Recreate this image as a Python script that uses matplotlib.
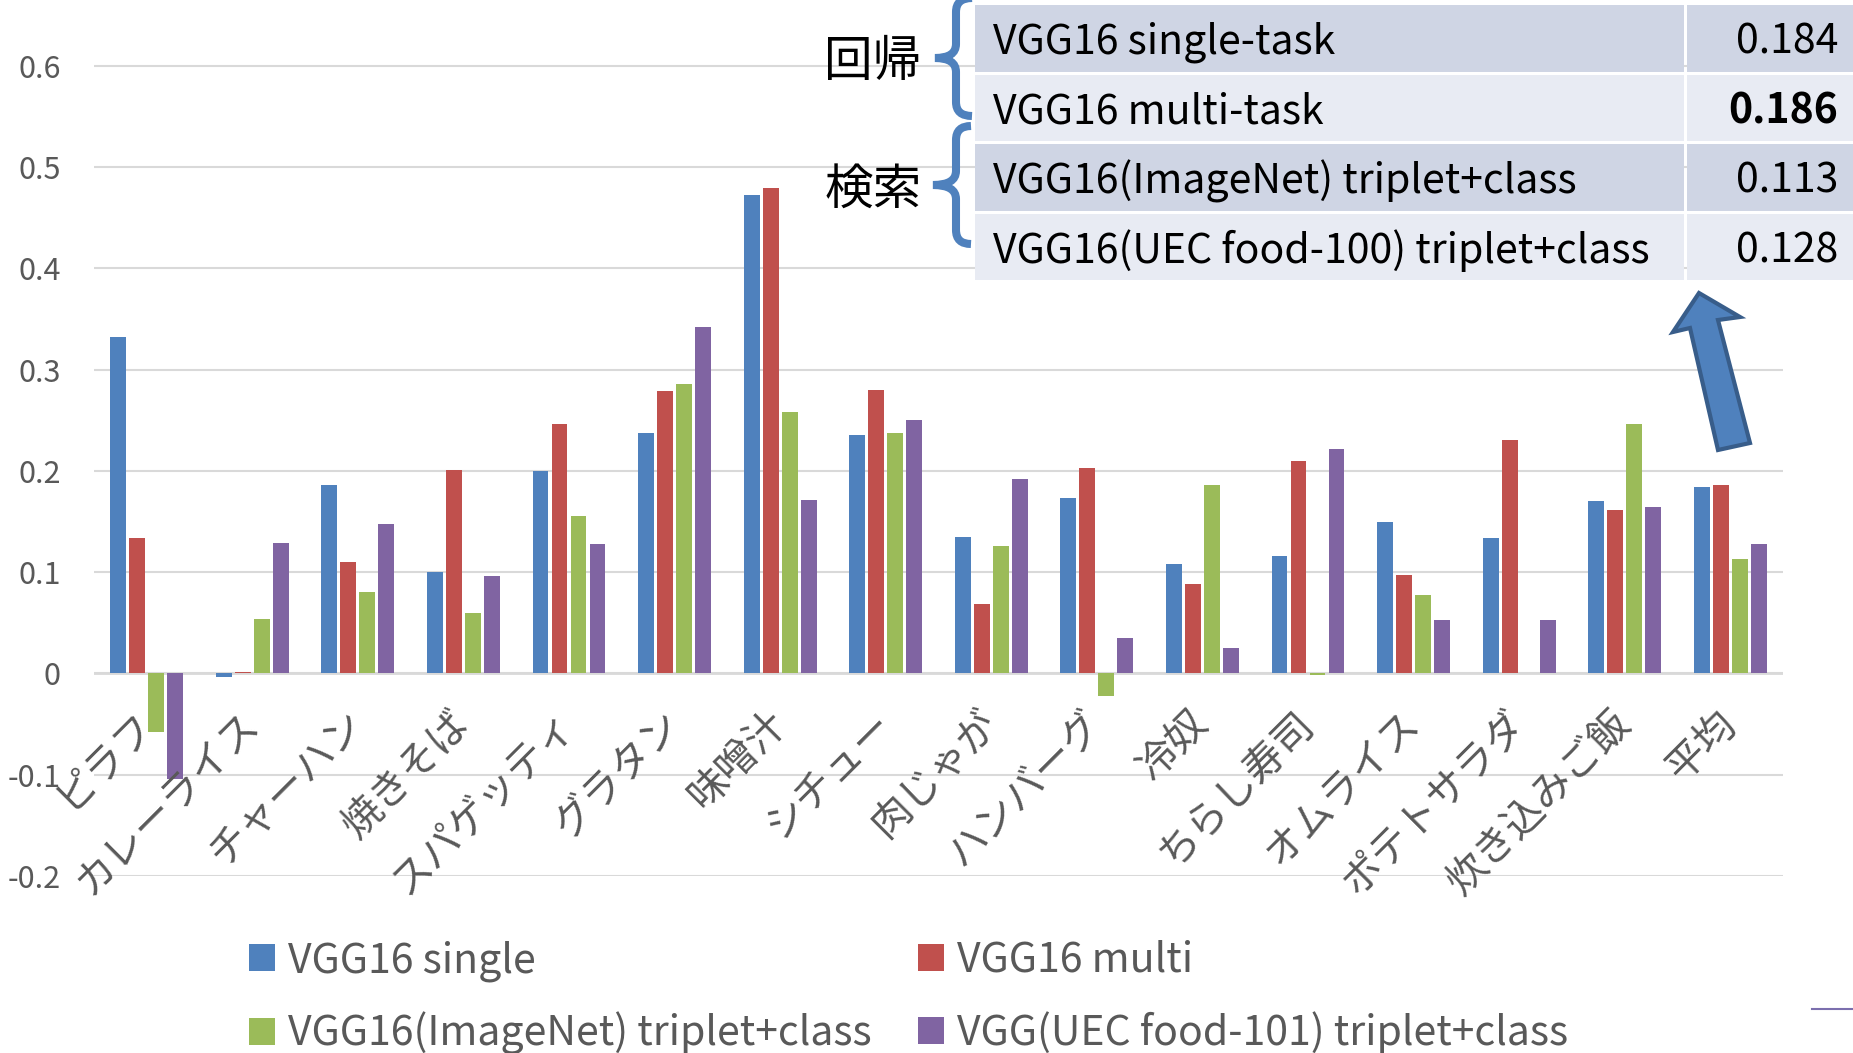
import numpy as np
import matplotlib
matplotlib.use("Agg")
import matplotlib.pyplot as plt
import matplotlib.transforms as mtransforms
from matplotlib.patches import Rectangle, Polygon, PathPatch
from matplotlib.path import Path
from matplotlib.lines import Line2D

plt.rcParams['font.family'] = ['Noto Sans CJK JP', 'DejaVu Sans']

W, H = 1853, 1053

# chart data
categories = ['ピラフ', 'カレーライス', 'チャーハン', '焼きそば', 'スパゲッティ', 'グラタン',
              '味噌汁', 'シチュー', '肉じゃが', 'ハンバーグ', '冷奴', 'ちらし寿司',
              'オムライス', 'ポテトサラダ', '炊き込みご飯', '平均']
vgg16_single = [0.332, -0.004, 0.186, 0.100, 0.200, 0.237, 0.472, 0.235,
                0.135, 0.173, 0.108, 0.116, 0.149, 0.134, 0.170, 0.184]
vgg16_multi = [0.134, 0.001, 0.110, 0.201, 0.246, 0.279, 0.479, 0.280,
               0.068, 0.203, 0.088, 0.210, 0.097, 0.230, 0.161, 0.186]
vgg16_imagenet = [-0.058, 0.054, 0.080, 0.060, 0.155, 0.286, 0.258, 0.237,
                  0.126, -0.022, 0.186, -0.002, 0.077, 0.0, 0.246, 0.113]
vgg_uec = [-0.104, 0.129, 0.147, 0.096, 0.128, 0.342, 0.171, 0.250,
           0.192, 0.035, 0.025, 0.222, 0.053, 0.053, 0.164, 0.128]
series_names = ['VGG16 single', 'VGG16 multi',
                'VGG16(ImageNet) triplet+class', 'VGG(UEC food-101) triplet+class']
colors = ['#4F81BD', '#C0504D', '#9BBB59', '#8064A2']

y_ticks = [-0.2, -0.1, 0, 0.1, 0.2, 0.3, 0.4, 0.5, 0.6]
y_tick_labels = ['-0.2', '-0.1', '0', '0.1', '0.2', '0.3', '0.4', '0.5', '0.6']

# summary table in the top right corner
table_models = ['VGG16 single-task', 'VGG16 multi-task',
                'VGG16(ImageNet) triplet+class', 'VGG16(UEC food-100) triplet+class']
table_scores = ['0.184', '0.186', '0.113', '0.128']
table_bold = [False, True, False, False]
table_groups = ['回帰', '検索']


def px(x, y):
    """pixel position (y down) -> figure fraction"""
    return x / W, 1 - y / H


def brace(ax, x_end, x_mid, x_tip, y_top, y_tip, y_bot, r=14, **kw):
    verts = [(x_end, y_top),
             (x_mid, y_top), (x_mid, y_top + r),
             (x_mid, y_tip - r),
             (x_mid, y_tip), (x_tip, y_tip),
             (x_mid, y_tip), (x_mid, y_tip + r),
             (x_mid, y_bot - r),
             (x_mid, y_bot), (x_end, y_bot)]
    codes = [Path.MOVETO,
             Path.CURVE3, Path.CURVE3,
             Path.LINETO,
             Path.CURVE3, Path.CURVE3,
             Path.CURVE3, Path.CURVE3,
             Path.LINETO,
             Path.CURVE3, Path.CURVE3]
    ax.add_patch(PathPatch(Path(verts, codes), facecolor='none', **kw))


fig = plt.figure(figsize=(W / 100, H / 100), dpi=100)

# main bar chart
x0, y_bottom = 94, 875.8
x1, y_top = 1783, 5
ax = fig.add_axes([x0 / W, 1 - y_bottom / H, (x1 - x0) / W, (y_bottom - y_top) / H])

x = np.arange(len(categories))
series = [vgg16_single, vgg16_multi, vgg16_imagenet, vgg_uec]
bars = []
for i, (vals, c, name) in enumerate(zip(series, colors, series_names)):
    b = ax.bar(x + (i - 1.5) * 0.18, vals, width=0.15, color=c, label=name, zorder=3)
    bars.append(b)

ax.set_xlim(-0.5, len(categories) - 0.5)
ax.set_ylim(-0.2, 0.66)
ax.set_yticks(y_ticks)
ax.set_yticklabels(y_tick_labels)
ax.set_xticks([])
ax.yaxis.grid(True, color='#D9D9D9', lw=1.5)
ax.set_axisbelow(True)
ax.axhline(0, color='#D9D9D9', lw=2, zorder=2)
for s in ax.spines.values():
    s.set_visible(False)
ax.tick_params(axis='y', length=0, pad=24, labelsize=22, labelcolor='#595959')

# rotated category labels
offset = mtransforms.ScaledTranslation(0 / 100, -44 / 100, fig.dpi_scale_trans)
for xi, name in zip(x, categories):
    ax.text(xi, 0, name, transform=ax.transData + offset, rotation=45,
            rotation_mode='anchor', ha='right', va='center',
            fontsize=29, color='#595959', zorder=4)

# legend, filled column by column
order = [0, 2, 1, 3]
fig.legend([bars[i] for i in order], [series_names[i] for i in order],
           loc='upper left', bbox_to_anchor=px(249, 940), ncol=2, frameon=False,
           fontsize=29.5, handlelength=0.64, handleheight=0.64, handletextpad=0.32,
           columnspacing=1.12, borderpad=0, borderaxespad=0, labelspacing=0.74,
           labelcolor='#595959')

# overlay in pixel coordinates for the table, braces and arrow
ov = fig.add_axes([0, 0, 1, 1], zorder=5)
ov.set_xlim(0, W)
ov.set_ylim(H, 0)
ov.axis('off')

row_top, row_pitch, row_h = 5, 69.5, 66.5
row_colors = ['#CFD5E4', '#E8EBF3']
for r, (model, score, bold) in enumerate(zip(table_models, table_scores, table_bold)):
    top = row_top + r * row_pitch
    fc = row_colors[r % 2]
    ov.add_patch(Rectangle((975, top), 1684 - 975, row_h, facecolor=fc, edgecolor='none'))
    ov.add_patch(Rectangle((1687, top), W - 1687, row_h, facecolor=fc, edgecolor='none'))
    ov.text(993, top + row_h / 2 + 4, model, ha='left', va='center', fontsize=29.5, color='black')
    ov.text(1838, top + row_h / 2 + 4, score, ha='right', va='center', fontsize=29.5,
            color='black', fontweight='bold' if bold else 'normal')

ov.text(873, 62, table_groups[0], ha='center', va='center', fontsize=35, color='black')
ov.text(873, 190, table_groups[1], ha='center', va='center', fontsize=35, color='black')
brace(ov, 972, 956, 935, -2, 58, 116, edgecolor='#4F81BD', lw=5.8)
brace(ov, 971, 956, 933, 126, 185, 244, edgecolor='#4F81BD', lw=5.8)

arrow_pts = [(1699, 293), (1740, 317), (1718, 320), (1750, 443),
             (1718, 450), (1690, 328), (1673, 332)]
ov.add_patch(Polygon(arrow_pts, closed=True, facecolor='#4F81BD',
                     edgecolor='#385D8A', lw=3, joinstyle='miter'))

ov.add_line(Line2D([1812, W], [1008.7, 1008.7], color='#7B6FAE', lw=1.5))

fig.savefig('out.png', dpi=100)
